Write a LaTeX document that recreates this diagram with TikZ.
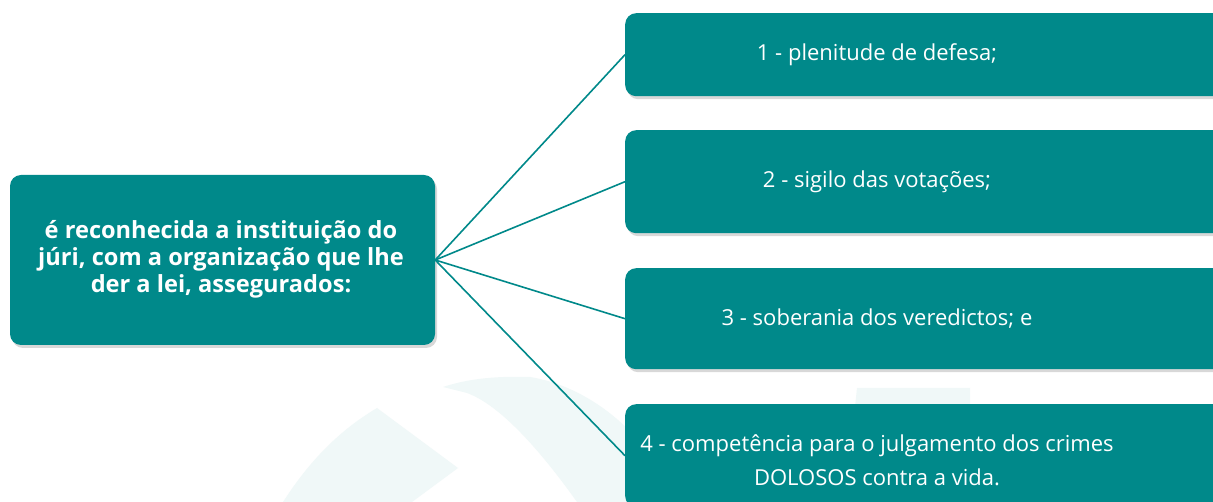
\documentclass[tikz,border=0pt]{standalone}
\usepackage{fontspec}
\setmainfont{Open Sans}
\usetikzlibrary{shadows}
\definecolor{teal1}{RGB}{0,137,138}
\definecolor{wm}{RGB}{240,248,248}
\tikzset{
  box/.style={fill=teal1, rounded corners=11pt, draw=none, inner sep=0pt,
    drop shadow={opacity=0.3, shadow xshift=2pt, shadow yshift=-3pt}},
  lefttext/.style={text=white, font=\bfseries\fontsize{23.6}{27}\selectfont, align=center, inner sep=0pt},
  righttext/.style={text=white, font=\fontsize{22}{34}\selectfont, align=center, inner sep=0pt},
  conn/.style={draw=teal1, line width=1.6pt}
}
\begin{document}
\begin{tikzpicture}[x=1pt, y=-1pt]
\useasboundingbox (0,0) rectangle (1213,502);
\clip (0,0) rectangle (1213,502);
\fill[white] (0,0) rectangle (1213,502);
% faint watermark
\fill[wm] (283,502) .. controls (310,460) and (340,430) .. (377,408) -- (458,468) -- (412,502) -- cycle;
\fill[wm] (443,387) .. controls (470,378) and (500,376) .. (530,377) .. controls (580,385) and (630,420) .. (660,470) -- (680,502) -- (577,502) .. controls (540,450) and (500,405) .. (467,393) -- cycle;
\fill[wm] (857,388) -- (970,388) -- (970,502) -- (845,502) -- cycle;
% boxes
\node[box, minimum width=425pt, minimum height=170pt] (L) at (222.5,260) {};
\node[lefttext] (Lt) at (221,259) {é reconhecida a instituição do\\júri, com a organização que lhe\\der a lei, assegurados:};
\node[box, anchor=north west, minimum width=610pt, minimum height=83pt] (b1) at (625,13) {};
\node[box, anchor=north west, minimum width=610pt, minimum height=103pt] (b2) at (625,130) {};
\node[box, anchor=north west, minimum width=610pt, minimum height=101pt] (b3) at (625,268) {};
\node[box, anchor=north west, minimum width=610pt, minimum height=103pt] (b4) at (625,404) {};
\node[righttext] (t1) at (877,55) {1 - plenitude de defesa;};
\node[righttext] (t2) at (877,182) {2 - sigilo das votações;};
\node[righttext] (t3) at (877,319) {3 - soberania dos veredictos; e};
\node[righttext] (t4) at (877,460) {4 - competência para o julgamento dos crimes\\DOLOSOS contra a vida.};
% connectors
\draw[conn] (L.east) -- (b1.west);
\draw[conn] (L.east) -- (b2.west);
\draw[conn] (L.east) -- (b3.west);
\draw[conn] (L.east) -- (b4.west);
\end{tikzpicture}
\end{document}
